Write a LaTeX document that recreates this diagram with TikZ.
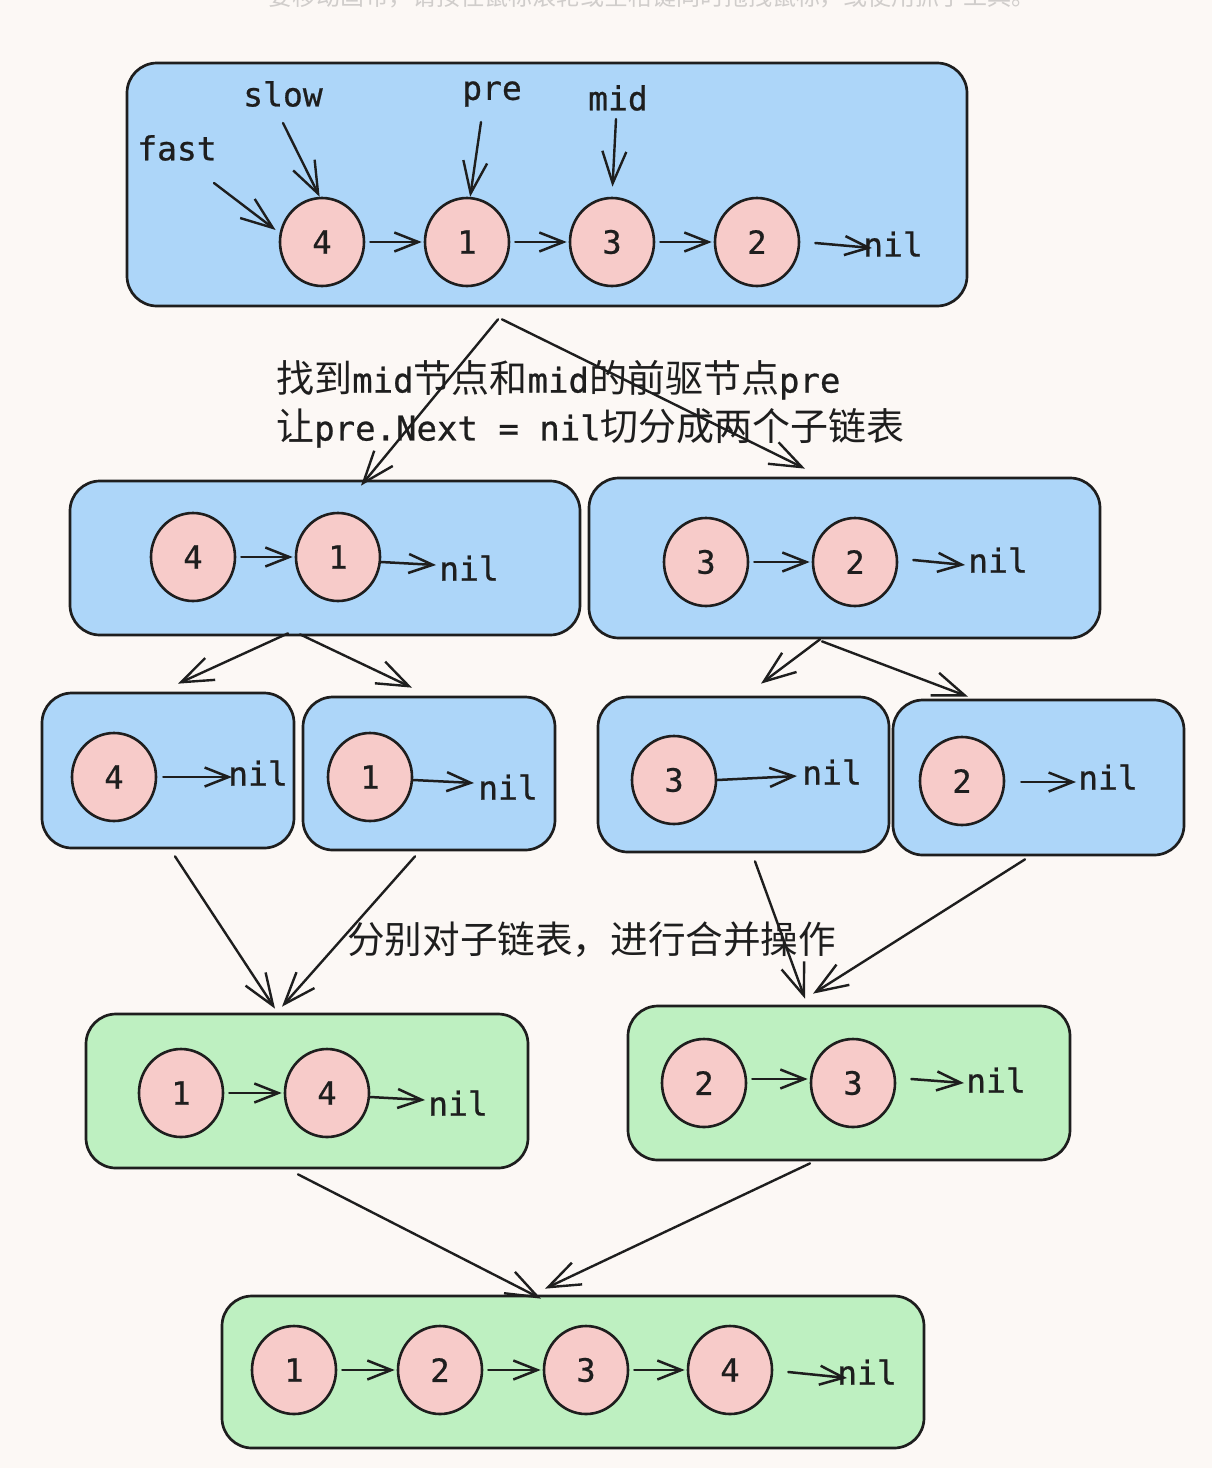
\documentclass[tikz,border=0pt]{standalone}
\usepackage{fontspec}
\setmonofont{DejaVu Sans Mono}[FakeBold=0.7]
\newfontfamily\cjkfont{Noto Sans CJK SC}
\usetikzlibrary{arrows.meta,shapes.geometric}
\definecolor{bgc}{RGB}{252,248,245}
\definecolor{ink}{RGB}{30,30,30}
\definecolor{bluec}{RGB}{173,214,249}
\definecolor{greenc}{RGB}{190,240,193}
\definecolor{pinkc}{RGB}{247,203,201}
\definecolor{faint}{RGB}{208,205,203}
\newcommand{\zhtxt}[1]{{\cjkfont\fontsize{38}{44}\selectfont #1}}
\begin{document}
\begin{tikzpicture}[x=1pt,y=-1pt,
  box/.style={draw=ink,line width=2.7pt,rounded corners=30pt,inner sep=0pt,fill=bluec},
  gbox/.style={box,fill=greenc},
  nd/.style={ellipse,draw=ink,fill=pinkc,line width=2.6pt,minimum width=84pt,minimum height=88pt,inner sep=0pt,text=ink,font=\ttfamily\fontsize{32}{36}\selectfont},
  lbl/.style={inner sep=0pt,text=ink,font=\ttfamily\fontsize{33}{40}\selectfont},
  arr/.style={draw=ink,line width=2.5pt,line cap=round,line join=round,-{Straight Barb[length=24pt,width=19pt]}},
  bigarr/.style={draw=ink,line width=2.4pt,line cap=round,line join=round,-{Straight Barb[length=32pt,width=24pt]}},
  link/.style={arr,shorten <=5pt,shorten >=2pt}]
\useasboundingbox (0,0) rectangle (1212,1468);
\fill[bgc] (0,0) rectangle (1212,1468);

% faint hint text (cut at top, as in the reference)
\node[text=faint,inner sep=0pt,font=\cjkfont\fontsize{24}{30}\selectfont] (hint) at (652,-3) {要移动画布，请按住鼠标滚轮或空格键同时拖拽鼠标，或使用抓手工具。};

% ---------- boxes ----------
\node[box,minimum width=840pt,minimum height=243pt] (T) at (547,184.5) {};
\node[box,minimum width=510pt,minimum height=154pt] (L2) at (325,558) {};
\node[box,minimum width=511pt,minimum height=160pt] (R2) at (844.5,558) {};
\node[box,minimum width=252pt,minimum height=155pt] (A) at (168,770.5) {};
\node[box,minimum width=252pt,minimum height=153pt] (B) at (429,773.5) {};
\node[box,minimum width=291pt,minimum height=155pt] (C) at (743.5,774.5) {};
\node[box,minimum width=291pt,minimum height=155pt] (D) at (1038.5,777.5) {};
\node[gbox,minimum width=442pt,minimum height=154pt] (GL) at (307,1091) {};
\node[gbox,minimum width=442pt,minimum height=154pt] (GR) at (849,1083) {};
\node[gbox,minimum width=702pt,minimum height=152pt] (F) at (573,1372) {};

% ---------- top list ----------
\node[nd] (t4) at (322,242) {4};
\node[nd] (t1) at (467,242) {1};
\node[nd] (t3) at (612,242) {3};
\node[nd] (t2) at (757,242) {2};
\node[lbl] (nT) at (893,244) {nil};
\draw[link] (t4) -- (t1);
\draw[link] (t1) -- (t3);
\draw[link] (t3) -- (t2);
\draw[arr] ([xshift=15pt,yshift=-1pt]t2.east) -- ([xshift=9pt,yshift=-4pt]nT.west);

\node[lbl] (fast) at (177,148) {fast};
\node[lbl] (slow) at (283,94) {slow};
\node[lbl] (pre) at (492,94) {pre};
\node[lbl] (mid) at (618,98) {mid};
\coordinate (fastS) at (214,183);
\coordinate (slowS) at (283,123);
\coordinate (preS) at (481,122);
\coordinate (midS) at (616,119);
\draw[bigarr,shorten >=5pt] (fastS) -- (t4.168);
\draw[bigarr] (slowS) -- (t4.93);
\draw[bigarr] (preS) -- (t1.86);
\draw[bigarr,shorten >=10pt] (midS) -- (t3.north);

% ---------- caption 1 ----------
\node[inner sep=0pt,text=ink,font=\ttfamily\fontsize{34}{40}\selectfont,anchor=west] (cap1) at (276,380) {\zhtxt{找到}mid\zhtxt{节点和}mid\zhtxt{的前驱节点}pre};
\node[inner sep=0pt,text=ink,font=\ttfamily\fontsize{34}{40}\selectfont,anchor=west] (cap2) at (276,428) {\zhtxt{让}pre.Next = nil\zhtxt{切分成两个子链表}};

\draw[bigarr] ([xshift=-49pt,yshift=-12pt]T.south) -- ([xshift=36pt,yshift=-6pt]L2.north);
\draw[bigarr] ([xshift=-45pt,yshift=-12pt]T.south) -- ([xshift=-39.5pt,yshift=8pt]R2.north);

% ---------- row 2 ----------
\node[nd] (l4) at (193,557) {4};
\node[nd] (l1) at (338,557) {1};
\node[lbl] (nL2) at (469,568) {nil};
\draw[link] (l4) -- (l1);
\draw[arr] ([yshift=-5pt]l1.east) -- ([xshift=-3pt,yshift=3pt]nL2.west);

\node[nd] (r3) at (706,562) {3};
\node[nd] (r2) at (855,562) {2};
\node[lbl] (nR2) at (998,560) {nil};
\draw[link] (r3) -- (r2);
\draw[arr] ([xshift=15pt,yshift=2pt]r2.east) -- ([xshift=-3pt,yshift=-5pt]nR2.west);

\draw[bigarr] ([xshift=-37pt,yshift=3pt]L2.south) -- ([xshift=10pt,yshift=8pt]A.north);
\draw[bigarr] ([xshift=-25pt,yshift=2pt]L2.south) -- ([xshift=-17pt,yshift=8pt]B.north);
\draw[bigarr] ([xshift=-24.5pt]R2.south) -- ([xshift=17.5pt,yshift=12pt]C.north);
\draw[bigarr] ([xshift=-22.5pt,yshift=-2pt]R2.south) -- ([xshift=-70.5pt,yshift=2pt]D.north);

% ---------- row 3 ----------
\node[nd] (a4) at (114,777) {4};
\node[lbl] (nA) at (258,773) {nil};
\draw[arr] ([xshift=6pt]a4.east) -- ([xshift=4pt,yshift=-4pt]nA.west);

\node[nd] (b1) at (370,777) {1};
\node[lbl] (nB) at (508,787) {nil};
\draw[arr] ([yshift=-3pt]b1.east) -- ([xshift=-4pt,yshift=4pt]nB.west);

\node[nd] (c3) at (674,780) {3};
\node[lbl] (nC) at (832,772) {nil};
\draw[arr] (c3.east) -- ([xshift=-5pt,yshift=-4pt]nC.west);

\node[nd] (d2) at (962,781) {2};
\node[lbl] (nD) at (1108,777) {nil};
\draw[arr] ([xshift=16pt,yshift=-1pt]d2.east) -- ([xshift=-2pt,yshift=-5pt]nD.west);

% ---------- caption 2 ----------
\node[anchor=west,inner sep=0pt,text=ink,font=\cjkfont\fontsize{37.6}{44}\selectfont] (cap3) at (347,940) {分别对子链表，进行合并操作};

\draw[bigarr] ([xshift=7pt,yshift=-7pt]A.south) -- ([xshift=-32pt,yshift=4pt]GL.north);
\draw[bigarr] ([xshift=-14pt,yshift=-5pt]B.south) -- ([xshift=-25pt,yshift=6pt]GL.north);
\draw[bigarr] ([xshift=11.5pt,yshift=-8pt]C.south) -- ([xshift=-44pt,yshift=6pt]GR.north);
\draw[bigarr] ([xshift=-13.5pt,yshift=-3pt]D.south) -- ([xshift=-36pt,yshift=11pt]GR.north);

% ---------- row 4 ----------
\node[nd] (g1) at (181,1093) {1};
\node[nd] (g4) at (327,1093) {4};
\node[lbl] (nGL) at (458,1103) {nil};
\draw[link] (g1) -- (g4);
\draw[arr] ([yshift=-4pt]g4.east) -- ([xshift=-3pt,yshift=3pt]nGL.west);

\node[nd] (h2) at (704,1083) {2};
\node[nd] (h3) at (853,1083) {3};
\node[lbl] (nGR) at (996,1080) {nil};
\draw[link] ([yshift=4pt]h2.east) -- ([yshift=4pt]h3.west);
\draw[arr] ([xshift=15pt,yshift=4pt]h3.east) -- ([xshift=-2pt,yshift=-3pt]nGR.west);

\draw[bigarr] ([xshift=-9pt,yshift=-5pt]GL.south) -- ([xshift=-32pt,yshift=-4pt]F.north);
\draw[bigarr] ([xshift=-39pt,yshift=-2pt]GR.south) -- ([xshift=-28pt,yshift=6pt]F.north);

% ---------- final list ----------
\node[nd] (f1) at (294,1370) {1};
\node[nd] (f2) at (440,1370) {2};
\node[nd] (f3) at (586,1370) {3};
\node[nd] (f4) at (730,1370) {4};
\node[lbl] (nF) at (867,1372) {nil};
\draw[link] (f1) -- (f2);
\draw[link] (f2) -- (f3);
\draw[link] (f3) -- (f4);
\draw[arr] ([xshift=15pt,yshift=-2pt]f4.east) -- ([xshift=10pt,yshift=-6pt]nF.west);
\end{tikzpicture}
\end{document}
